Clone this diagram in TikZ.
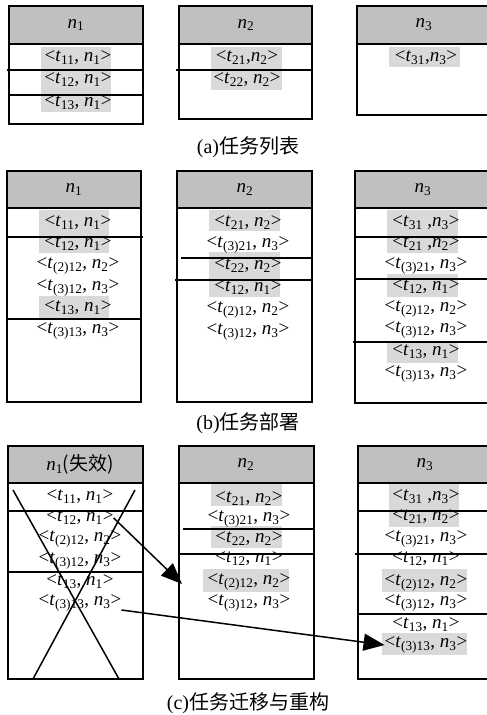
\documentclass[tikz,border=0pt]{standalone}
\usepackage{fontspec}
\setmainfont{Liberation Serif}
\newfontfamily\cjk{Noto Sans CJK SC}
\usetikzlibrary{arrows.meta}
\definecolor{hdr}{RGB}{192,192,192}
\definecolor{hl}{RGB}{217,217,217}
\newcommand\myt[1]{\textit{t}\textsubscript{#1}}
\newcommand\myn[1]{\textit{n}\textsubscript{#1}}
\tikzset{
  lbl/.style={inner sep=0pt, font=\fontsize{19}{19}\selectfont},
  captext/.style={inner sep=0pt, font=\fontsize{20}{20}\selectfont},
  frame/.style={line width=1.8pt},
  rowline/.style={line width=1.6pt},
  crossline/.style={line width=1.5pt},
  mig/.style={line width=1.5pt, -{Triangle[length=21pt,width=17pt]}},
  hlbox/.style={fill=hl},
  hdrfill/.style={fill=hdr}
}
\begin{document}
\begin{tikzpicture}[x=1pt,y=-1pt]
\useasboundingbox (0,0) rectangle (487,715);
\clip (0,0) rectangle (487,715);
% ---------------- (a) ----------------
\fill[hlbox] (41,47) rectangle (111,112);
\fill[hlbox] (211,47) rectangle (282,90);
\fill[hlbox] (389,47) rectangle (460,67);
\fill[hdrfill] (8.7,6) rectangle (143,44);
\fill[hdrfill] (179,6) rectangle (312,44);
\fill[hdrfill] (357,6) rectangle (492,44);
\node[lbl] (a1h) at (76,25) {\myn{1}};
\node[lbl] (a2h) at (246,25) {\myn{2}};
\node[lbl] (a3h) at (424,25) {\myn{3}};
\node[lbl] (a1t1) at (78,58) {<\myt{11}, \myn{1}>};
\node[lbl] (a1t2) at (78,80) {<\myt{12}, \myn{1}>};
\node[lbl] (a1t3) at (78,103) {<\myt{13}, \myn{1}>};
\node[lbl] (a2t1) at (247,58) {<\myt{21},\myn{2}>};
\node[lbl] (a2t2) at (247,80) {<\myt{22}, \myn{2}>};
\node[lbl] (a3t1) at (426,58) {<\myt{31},\myn{3}>};
\draw[frame] (8.7,6) rectangle (143,124);
\draw[frame] (8.7,44) -- (143,44);
\draw[rowline] (7,70) -- (143,70);
\draw[rowline] (8.7,95) -- (143,95);
\draw[frame] (179,6) rectangle (312,119);
\draw[frame] (179,44) -- (312,44);
\draw[rowline] (176,70) -- (312,70);
\draw[frame] (357,6) rectangle (492,115);
\draw[frame] (357,44) -- (492,44);
\node[captext] (capa) at (248,147) {(a){\cjk 任务列表}};
% ---------------- (b) ----------------
\fill[hlbox] (39,210) rectangle (109,253);
\fill[hlbox] (39,296) rectangle (109,318);
\fill[hlbox] (209,210) rectangle (280,231);
\fill[hlbox] (209,252) rectangle (280,297);
\fill[hlbox] (387,210) rectangle (458,253);
\fill[hlbox] (387,274) rectangle (458,297);
\fill[hlbox] (387,342) rectangle (458,363);
\fill[hdrfill] (7,171) rectangle (141,208);
\fill[hdrfill] (177,171) rectangle (312,208);
\fill[hdrfill] (355,171) rectangle (491,208);
\node[lbl] (b1h) at (74,189.5) {\myn{1}};
\node[lbl] (b2h) at (245,189.5) {\myn{2}};
\node[lbl] (b3h) at (423,189.5) {\myn{3}};
\node[lbl] (b1t1) at (78,223) {<\myt{11}, \myn{1}>};
\node[lbl] (b1t2) at (78,244) {<\myt{12}, \myn{1}>};
\node[lbl] (b1t3) at (78,266) {<\myt{(2)12}, \myn{2}>};
\node[lbl] (b1t4) at (78,288) {<\myt{(3)12}, \myn{3}>};
\node[lbl] (b1t5) at (78,308) {<\myt{13}, \myn{1}>};
\node[lbl] (b1t6) at (78,331) {<\myt{(3)13}, \myn{3}>};
\node[lbl] (b2t1) at (248,223) {<\myt{21}, \myn{2}>};
\node[lbl] (b2t2) at (248,245) {<\myt{(3)21}, \myn{3}>};
\node[lbl] (b2t3) at (248,266) {<\myt{22}, \myn{2}>};
\node[lbl] (b2t4) at (248,288) {<\myt{12}, \myn{1}>};
\node[lbl] (b2t5) at (248,310) {<\myt{(2)12}, \myn{2}>};
\node[lbl] (b2t6) at (248,332) {<\myt{(3)12}, \myn{3}>};
\node[lbl] (b3t1) at (426,223) {<\myt{31} ,\myn{3}>};
\node[lbl] (b3t2) at (426,244) {<\myt{21} ,\myn{2}>};
\node[lbl] (b3t3) at (426,266) {<\myt{(3)21}, \myn{3}>};
\node[lbl] (b3t4) at (426,287) {<\myt{12}, \myn{1}>};
\node[lbl] (b3t5) at (426,309) {<\myt{(2)12}, \myn{2}>};
\node[lbl] (b3t6) at (426,330) {<\myt{(3)12}, \myn{3}>};
\node[lbl] (b3t7) at (426,352) {<\myt{13}, \myn{1}>};
\node[lbl] (b3t8) at (426,374) {<\myt{(3)13}, \myn{3}>};
\draw[frame] (7,171) rectangle (141,402);
\draw[frame] (7,208) -- (141,208);
\draw[rowline] (7,237) -- (143,237);
\draw[rowline] (7,319) -- (141,319);
\draw[frame] (177,171) rectangle (312,402);
\draw[frame] (177,208) -- (312,208);
\draw[rowline] (181,258) -- (313,258);
\draw[rowline] (175,280) -- (312,280);
\draw[frame] (355,171) rectangle (491,403);
\draw[frame] (355,208) -- (491,208);
\draw[rowline] (355,237) -- (491,237);
\draw[rowline] (355,279) -- (491,279);
\draw[rowline] (353,342) -- (491,342);
\node[captext] (capb) at (248,423) {(b){\cjk 任务部署}};
% ---------------- (c) ----------------
\fill[hlbox] (211,484) rectangle (282,506);
\fill[hlbox] (211,526) rectangle (282,548);
\fill[hlbox] (203,569) rectangle (289,592);
\fill[hlbox] (389,484) rectangle (459,527);
\fill[hlbox] (382,569) rectangle (467,592);
\fill[hlbox] (382,633) rectangle (467,655);
\fill[hdrfill] (8,446) rectangle (143,483);
\fill[hdrfill] (179,446) rectangle (314,483);
\fill[hdrfill] (358,446) rectangle (492,483);
\node[lbl] (c1h) at (80,464.5) {\myn{1}{\cjk (失效)}};
\node[lbl] (c2h) at (246,464.5) {\myn{2}};
\node[lbl] (c3h) at (425,464.5) {\myn{3}};
\node[lbl] (c1t1) at (80,497) {<\myt{11}, \myn{1}>};
\node[lbl] (c1t2) at (80,518) {<\myt{12}, \myn{1}>};
\node[lbl] (c1t3) at (80,539) {<\myt{(2)12}, \myn{2}>};
\node[lbl] (c1t4) at (80,561) {<\myt{(3)12}, \myn{3}>};
\node[lbl] (c1t5) at (80,582) {<\myt{13}, \myn{1}>};
\node[lbl] (c1t6) at (80,603) {<\myt{(3)13}, \myn{3}>};
\node[lbl] (c2t1) at (249,499) {<\myt{21}, \myn{2}>};
\node[lbl] (c2t2) at (249,519) {<\myt{(3)21}, \myn{3}>};
\node[lbl] (c2t3) at (249,539) {<\myt{22}, \myn{2}>};
\node[lbl] (c2t4) at (249,559) {<\myt{12}, \myn{1}>};
\node[lbl] (c2t5) at (249,582) {<\myt{(2)12}, \myn{2}>};
\node[lbl] (c2t6) at (249,603) {<\myt{(3)12}, \myn{3}>};
\node[lbl] (c3t1) at (426,497) {<\myt{31} ,\myn{3}>};
\node[lbl] (c3t2) at (426,517) {<\myt{21}, \myn{2}>};
\node[lbl] (c3t3) at (426,539) {<\myt{(3)21}, \myn{3}>};
\node[lbl] (c3t4) at (426,559) {<\myt{12}, \myn{1}>};
\node[lbl] (c3t5) at (426,583) {<\myt{(2)12}, \myn{2}>};
\node[lbl] (c3t6) at (426,603) {<\myt{(3)12}, \myn{3}>};
\node[lbl] (c3t7) at (426,625) {<\myt{13}, \myn{1}>};
\node[lbl] (c3t8) at (426,645) {<\myt{(3)13}, \myn{3}>};
\draw[frame] (8,446) rectangle (143,679);
\draw[frame] (8,483) -- (143,483);
\draw[rowline] (8,511) -- (143,511);
\draw[rowline] (7,572) -- (143,572);
\draw[crossline] (13,490) -- (119,679);
\draw[crossline] (135,490) -- (33,679);
\draw[frame] (179,446) rectangle (314,679);
\draw[frame] (179,483) -- (314,483);
\draw[rowline] (183,529) -- (315,529);
\draw[rowline] (179,554) -- (314,554);
\draw[frame] (358,446) rectangle (492,679);
\draw[frame] (358,483) -- (492,483);
\draw[rowline] (358,511) -- (492,511);
\draw[rowline] (355,554) -- (492,554);
\draw[rowline] (358,614) -- (492,614);
\coordinate (m1end) at (182,584);
\draw[mig] (c1t2.east) -- (m1end);
\draw[mig] ([yshift=-7pt]c1t6.east) -- (c3t8.west);
\node[captext] (capc) at (248,703) {(c){\cjk 任务迁移与重构}};
\end{tikzpicture}
\end{document}
